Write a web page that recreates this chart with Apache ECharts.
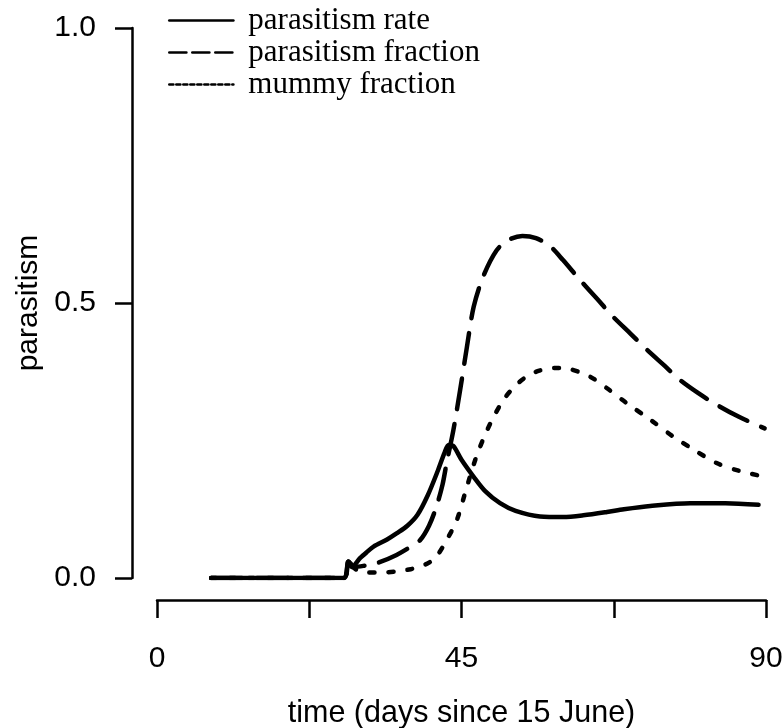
<!DOCTYPE html>
<html>
<head>
<meta charset="utf-8">
<script src="https://cdn.jsdelivr.net/npm/echarts@6/dist/echarts.min.js"></script>
<style>
html,body{margin:0;padding:0;background:#fff;}
#chart{width:783px;height:728px;}
</style>
</head>
<body>
<div id="chart"></div>
<script>
// ---- data ----
const seriesNames = ['parasitism rate', 'parasitism fraction', 'mummy fraction'];

const rateX = [8, 12, 16, 20, 24, 27.6, 28.3, 28.8, 30.0, 31.0, 32.0, 34.0, 35.4, 37.0, 38.5, 40.0, 41.5, 42.5, 43.1, 43.8, 45.0, 46.8, 48.5, 50.7, 53.0, 56.6, 60.0, 63.0, 66.5, 69.0, 72.9, 78.8, 84.0, 88.9];
const rateY = [0, 0, 0, 0, 0, 0, 0.03, 0.02, 0.036, 0.047, 0.057, 0.07, 0.081, 0.095, 0.115, 0.15, 0.195, 0.228, 0.242, 0.24, 0.215, 0.184, 0.158, 0.136, 0.122, 0.112, 0.111, 0.114, 0.12, 0.125, 0.131, 0.136, 0.136, 0.133];

const fracX = [8, 27.6, 28.3, 29.2, 30.5, 32.5, 35.4, 37.5, 38.9, 40.2, 41.3, 42.2, 42.8, 43.8, 44.8, 45.8, 46.8, 48.2, 50.2, 52.0, 54.0, 56.0, 58.1, 60.0, 62.5, 65.0, 67.4, 70.0, 72.4, 75.0, 77.3, 80.0, 82.7, 86.0, 89.8];
const fracY = [0, 0, 0.03, 0.02, 0.022, 0.027, 0.042, 0.057, 0.069, 0.095, 0.13, 0.17, 0.209, 0.269, 0.342, 0.42, 0.493, 0.548, 0.596, 0.615, 0.622, 0.618, 0.603, 0.578, 0.542, 0.508, 0.475, 0.444, 0.415, 0.386, 0.36, 0.336, 0.315, 0.293, 0.272];

const mummyX = [8, 27.6, 28.3, 29.5, 31.0, 33.0, 35.4, 37.5, 38.9, 40.2, 41.3, 42.8, 44.3, 45.8, 47.2, 48.3, 49.5, 51.2, 53.0, 54.6, 56.5, 58.8, 61.0, 64.0, 66.5, 69.4, 73.0, 76.3, 79.5, 82.7, 86.0, 89.8];
const mummyY = [0, 0, 0.025, 0.015, 0.01, 0.01, 0.012, 0.016, 0.021, 0.028, 0.039, 0.069, 0.105, 0.166, 0.221, 0.255, 0.287, 0.324, 0.35, 0.366, 0.377, 0.382, 0.38, 0.366, 0.345, 0.318, 0.287, 0.257, 0.232, 0.209, 0.195, 0.184];

const xTickLabels = [0, 45, 90];
const yTickLabels = [0, 0.5, 1];

function pairs(xs, ys) { return xs.map((x, i) => [x, ys[i]]); }

const chart = echarts.init(document.getElementById('chart'), null, {renderer: 'canvas'});
const axisFont = 'Liberation Sans, Arial, sans-serif';

chart.setOption({
  backgroundColor: '#ffffff',
  animation: false,
  grid: {left: 157, right: 17, top: 28, bottom: 150, containLabel: false, outerBoundsMode: 'none'},
  legend: {
    orient: 'vertical',
    left: 163,
    top: 0,
    itemWidth: 64,
    itemHeight: 20,
    itemGap: 1,
    textStyle: {fontFamily: 'Liberation Serif, Times New Roman, serif', fontSize: 31, lineHeight: 30, color: '#000', padding: [0, 0, 0, 10]},
    itemStyle: {opacity: 0},
    data: [
      {name: seriesNames[0], lineStyle: {width: 2.7, type: 'solid', color: '#000'}},
      {name: seriesNames[1], lineStyle: {width: 2.7, type: [17, 6], color: '#000'}},
      {name: seriesNames[2], lineStyle: {width: 2.7, type: [4, 3], color: '#000'}}
    ]
  },
  xAxis: {
    type: 'value', min: 0, max: 90, interval: 22.5, offset: 22,
    axisLine: {show: true, onZero: false, lineStyle: {color: '#000', width: 2.5}},
    axisTick: {show: true, length: 18, lineStyle: {color: '#000', width: 2.5}},
    axisLabel: {
      margin: 44, fontSize: 30, color: '#000', fontFamily: axisFont,
      formatter: v => (xTickLabels.indexOf(v) >= 0 ? String(v) : '')
    },
    splitLine: {show: false},
    name: 'time (days since 15 June)', nameLocation: 'middle', nameGap: 98,
    nameTextStyle: {fontSize: 30.5, color: '#000', fontFamily: axisFont}
  },
  yAxis: {
    type: 'value', min: 0, max: 1, interval: 0.5, offset: 25,
    axisLine: {show: true, onZero: false, lineStyle: {color: '#000', width: 2.5}},
    axisTick: {show: true, length: 17, lineStyle: {color: '#000', width: 2.5}},
    axisLabel: {
      margin: 36, fontSize: 30, color: '#000', fontFamily: axisFont,
      formatter: v => (yTickLabels.indexOf(v) >= 0 ? v.toFixed(1) : '')
    },
    splitLine: {show: false},
    name: 'parasitism', nameLocation: 'middle', nameGap: 88, nameRotate: 90,
    nameTextStyle: {fontSize: 30, color: '#000', fontFamily: axisFont}
  },
  series: [
    {name: seriesNames[0], type: 'line', data: pairs(rateX, rateY), symbol: 'none', smooth: 0.3,
     lineStyle: {color: '#000', width: 4.5, type: 'solid', cap: 'round', join: 'round'}, itemStyle: {color: '#000'}, z: 3},
    {name: seriesNames[1], type: 'line', data: pairs(fracX, fracY), symbol: 'none', smooth: 0.3,
     lineStyle: {color: '#000', width: 4.5, type: [31, 15], cap: 'round', join: 'round'}, itemStyle: {color: '#000'}, z: 2},
    {name: seriesNames[2], type: 'line', data: pairs(mummyX, mummyY), symbol: 'none', smooth: 0.3,
     lineStyle: {color: '#000', width: 4.5, type: [5, 14], cap: 'round', join: 'round'}, itemStyle: {color: '#000'}, z: 2}
  ]
});
</script>
</body>
</html>
